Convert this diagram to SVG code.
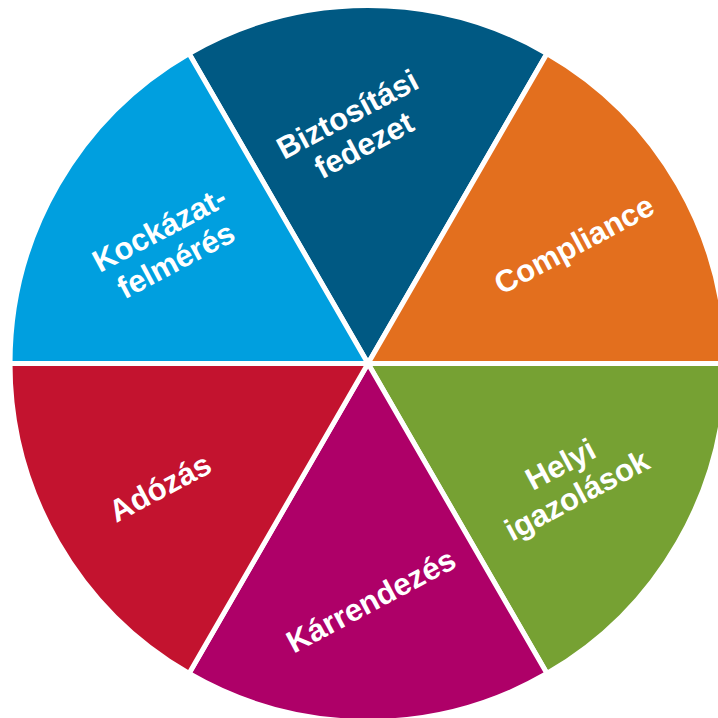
<svg xmlns="http://www.w3.org/2000/svg" width="718" height="718" viewBox="0 0 718 718">
<style>
.s{stroke:#fff;stroke-width:5;stroke-linejoin:round}
.t{font-family:"Liberation Sans",Arial,sans-serif;font-weight:bold;font-size:31px;fill:#fff;text-anchor:middle}
</style>
<rect width="718" height="718" fill="#fff"/>
<g id="slice-biztositasi">
<path class="s" fill="#005983" d="M368 363.5 L189 53.46 A358 358 0 0 1 547 53.46 Z"/>
<g transform="translate(359,136) rotate(-28)"><text class="t" x="0" y="-14">Biztosítási</text><text class="t" x="0" y="21">fedezet</text></g>
</g>
<g id="slice-compliance">
<path class="s" fill="#E36F1E" d="M368 363.5 L547 53.46 A358 358 0 0 1 726 363.5 Z"/>
<g transform="translate(579,254) rotate(-28)"><text class="t" x="0" y="0">Compliance</text></g>
</g>
<g id="slice-helyi">
<path class="s" fill="#76A133" d="M368 363.5 L726 363.5 A358 358 0 0 1 547 673.54 Z"/>
<g transform="translate(572,486) rotate(-28)"><text class="t" x="0" y="-14">Helyi</text><text class="t" x="0" y="21">igazolások</text></g>
</g>
<g id="slice-karrendezes">
<path class="s" fill="#AE0068" d="M368 363.5 L547 673.54 A358 358 0 0 1 189 673.54 Z"/>
<g transform="translate(376,610) rotate(-28)"><text class="t" x="0" y="0">Kárrendezés</text></g>
</g>
<g id="slice-adozas">
<path class="s" fill="#C3132F" d="M368 363.5 L189 673.54 A358 358 0 0 1 10 363.5 Z"/>
<g transform="translate(165,497) rotate(-28)"><text class="t" x="0" y="0">Adózás</text></g>
</g>
<g id="slice-kockazat">
<path class="s" fill="#009FDF" d="M368 363.5 L10 363.5 A358 358 0 0 1 189 53.46 Z"/>
<g transform="translate(171,251) rotate(-28)"><text class="t" x="0" y="-14">Kockázat-</text><text class="t" x="0" y="21">felmérés</text></g>
</g>
<g id="connectors"></g>
</svg>
